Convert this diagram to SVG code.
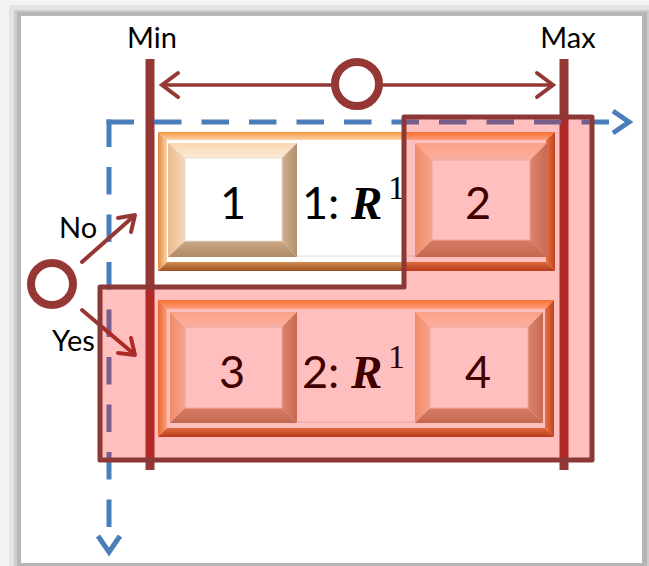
<svg xmlns="http://www.w3.org/2000/svg" width="649" height="566" viewBox="0 0 649 566">
  <defs>
    <linearGradient id="fTop" x1="0" y1="0" x2="0" y2="1"><stop offset="0" stop-color="#F7963F"/><stop offset="1" stop-color="#FDD3A8"/></linearGradient>
    <linearGradient id="fLeft" x1="0" y1="0" x2="1" y2="0"><stop offset="0" stop-color="#DE8A3E"/><stop offset="1" stop-color="#FBD4AA"/></linearGradient>
    <linearGradient id="fRight" x1="0" y1="0" x2="1" y2="0"><stop offset="0" stop-color="#E49A5C"/><stop offset="1" stop-color="#A9582A"/></linearGradient>
    <linearGradient id="fBottom" x1="0" y1="0" x2="0" y2="1"><stop offset="0" stop-color="#D48E50"/><stop offset="1" stop-color="#9E5026"/></linearGradient>
    <linearGradient id="bTop" x1="0" y1="0" x2="0" y2="1"><stop offset="0" stop-color="#F9D7B2"/><stop offset="1" stop-color="#FDEBD8"/></linearGradient>
    <linearGradient id="bLeft" x1="0" y1="0" x2="1" y2="0"><stop offset="0" stop-color="#E9BC8E"/><stop offset="1" stop-color="#F6D8BA"/></linearGradient>
    <linearGradient id="bRight" x1="0" y1="0" x2="1" y2="0"><stop offset="0" stop-color="#D2B090"/><stop offset="1" stop-color="#B38E70"/></linearGradient>
    <linearGradient id="bBottom" x1="0" y1="0" x2="0" y2="1"><stop offset="0" stop-color="#CBA784"/><stop offset="1" stop-color="#B08A6A"/></linearGradient>
  </defs>
  <style>
    .ft{fill:url(#fTop)} .fl{fill:url(#fLeft)} .fr{fill:url(#fRight)} .fb{fill:url(#fBottom)}
    .bt{fill:url(#bTop)} .bl{fill:url(#bLeft)} .br{fill:url(#bRight)} .bb{fill:url(#bBottom)}
    .face{fill:#FFFFFF;stroke:#E4DDD6;stroke-width:1}
    .sans{font-family:Lato,"Liberation Sans","DejaVu Sans",sans-serif;fill:#000}
    .lbl{font-size:29px}
    .num{font-size:45px}
    .rr{font-family:"Liberation Serif","DejaVu Serif",serif;font-weight:bold;font-style:italic;font-size:47px}
    .sup{font-family:"Liberation Serif","DejaVu Serif",serif;font-size:34px}
    .red{stroke:#953735;fill:none}
    .blue{stroke:#4A7EBB;fill:none;stroke-width:5}
  </style>

  <g id="background">
    <rect width="649" height="566" fill="#F3F3F3"/>
    <rect x="9" y="5" width="640" height="561" fill="#E3E3E3"/>
    <rect x="14" y="10" width="635" height="556" fill="#CDCDCD"/>
    <rect x="17" y="12" width="630" height="554" fill="#B6B6B6"/>
    <rect x="21" y="16" width="621" height="547" fill="#FFFFFF"/>
  </g>

  <g id="bounds">
    <line class="red" x1="150" y1="59" x2="150" y2="470" stroke-width="9"/>
    <line class="red" x1="564" y1="59" x2="564" y2="470" stroke-width="9"/>
    <text class="sans lbl" x="152" y="48" text-anchor="middle">Min</text>
    <text class="sans lbl" x="568" y="48" text-anchor="middle">Max</text>
  </g>

  <g id="connectors">
    <g id="range-arrow">
      <line class="red" x1="162" y1="85" x2="552" y2="85" stroke-width="3.5"/>
      <polyline class="red" points="178,73 162,85 178,97" stroke-width="4" stroke-linecap="round"/>
      <polyline class="red" points="537,73 553,85 537,97" stroke-width="4" stroke-linecap="round"/>
    </g>
    <g id="dashed-axes">
      <path class="blue" d="M106.5,122 H629" stroke-dasharray="27.5 20"/>
      <path class="blue" d="M109,119.5 V551" stroke-dasharray="27.5 20"/>
      <polyline class="blue" points="613,111 629,122 613,133"/>
      <polyline class="blue" points="98,536 109,552 120,536"/>
    </g>
    <g id="no-arrow">
      <line class="red" x1="82" y1="262" x2="134" y2="216" stroke-width="4" stroke-linecap="round"/>
      <polyline class="red" points="118,218 135,215 131,232" stroke-width="4" stroke-linecap="round" stroke-linejoin="round"/>
    </g>
    <g id="yes-arrow">
      <line class="red" x1="82" y1="310" x2="134" y2="354" stroke-width="4" stroke-linecap="round"/>
      <polyline class="red" points="131,338 135,355 118,353" stroke-width="4" stroke-linecap="round" stroke-linejoin="round"/>
    </g>
  </g>

  <g id="range-circle">
    <circle cx="357" cy="84" r="22" fill="#FFFFFF" stroke="#953735" stroke-width="8"/>
  </g>

  <g id="decision">
    <circle cx="52" cy="284" r="21" fill="#FFFFFF" stroke="#953735" stroke-width="8"/>
    <text class="sans lbl" x="59" y="238">No</text>
    <text class="sans lbl" x="52" y="351">Yes</text>
  </g>

  <g id="row1">
    <polygon class="ft" points="158,132 555,132 546,140 167,140"/>
    <polygon class="fl" points="158,132 167,140 167,262 158,271"/>
    <polygon class="fr" points="555,132 555,271 546,262 546,140"/>
    <polygon class="fb" points="158,271 167,262 546,262 555,271"/>
    <rect x="167" y="140" width="379" height="122" fill="#FFFFFF"/>
    <line x1="297" y1="256" x2="415" y2="256" stroke="#DDDDDD" stroke-width="1"/>
    <text class="sans num" x="302" y="219">1:</text>
    <text class="rr" x="351" y="219">R</text>
    <text class="sup" x="388" y="199">1</text>
  </g>

  <g id="node1">
    <polygon class="bt" points="168,143 297,143 282,158 185,158"/>
    <polygon class="bl" points="168,143 185,158 185,241 168,257"/>
    <polygon class="br" points="297,143 297,257 282,241 282,158"/>
    <polygon class="bb" points="168,257 185,241 282,241 297,257"/>
    <rect class="face" x="185" y="158" width="97" height="83"/>
    <text class="sans num" x="233" y="219" text-anchor="middle">1</text>
  </g>

  <g id="node2">
    <polygon class="bt" points="415,143 547,143 530,160 432,160"/>
    <polygon class="bl" points="415,143 432,160 432,240 415,257"/>
    <polygon class="br" points="547,143 547,257 530,240 530,160"/>
    <polygon class="bb" points="415,257 432,240 530,240 547,257"/>
    <rect class="face" x="432" y="160" width="98" height="80"/>
    <text class="sans num" x="478" y="219" text-anchor="middle">2</text>
  </g>

  <g id="row2">
    <polygon class="ft" points="158,300 554,300 545,309 167,309"/>
    <polygon class="fl" points="158,300 167,309 167,428 158,437"/>
    <polygon class="fr" points="554,300 554,437 545,428 545,309"/>
    <polygon class="fb" points="158,437 167,428 545,428 554,437"/>
    <rect x="167" y="309" width="378" height="119" fill="#FFFFFF"/>
    <line x1="297" y1="422" x2="415" y2="422" stroke="#DDDDDD" stroke-width="1"/>
    <text class="sans num" x="302" y="388">2:</text>
    <text class="rr" x="351" y="388">R</text>
    <text class="sup" x="388" y="368">1</text>
  </g>

  <g id="node3">
    <polygon class="bt" points="170,312 297,312 282,327 185,327"/>
    <polygon class="bl" points="170,312 185,327 185,408 170,423"/>
    <polygon class="br" points="297,312 297,423 282,408 282,327"/>
    <polygon class="bb" points="170,423 185,408 282,408 297,423"/>
    <rect class="face" x="185" y="327" width="97" height="81"/>
    <text class="sans num" x="232" y="388" text-anchor="middle">3</text>
  </g>

  <g id="node4">
    <polygon class="bt" points="415,312 543,312 528,327 430,327"/>
    <polygon class="bl" points="415,312 430,327 430,408 415,423"/>
    <polygon class="br" points="543,312 543,423 528,408 528,327"/>
    <polygon class="bb" points="415,423 430,408 528,408 543,423"/>
    <rect class="face" x="430" y="327" width="98" height="81"/>
    <text class="sans num" x="478" y="388" text-anchor="middle">4</text>
  </g>

  <g id="region">
    <path d="M404,117 H592 V460 H100 V287 H404 Z" fill="#FF0000" fill-opacity="0.25" stroke="#8C3836" stroke-width="5" stroke-linejoin="round"/>
  </g>
</svg>
